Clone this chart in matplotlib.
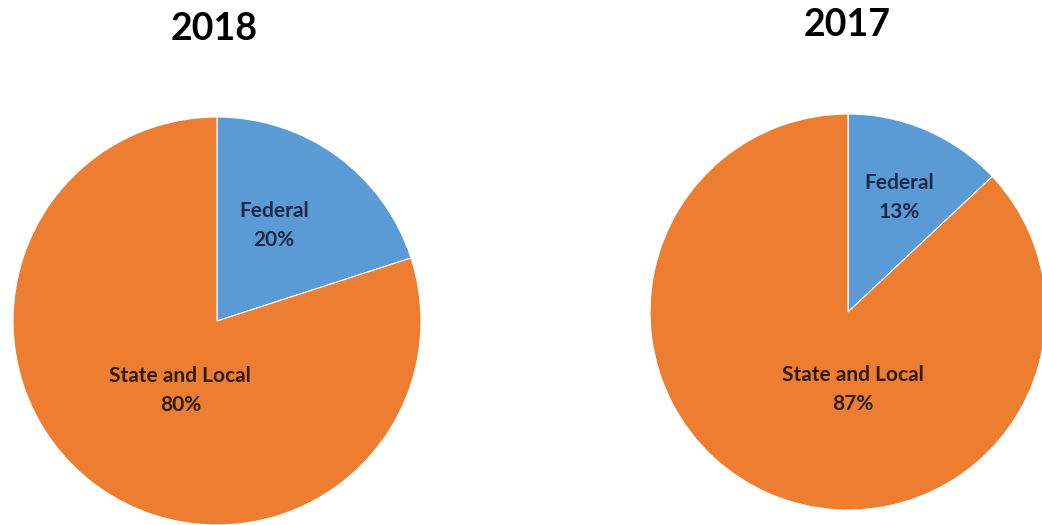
import matplotlib
matplotlib.use("Agg")
import matplotlib.pyplot as plt

# data
categories = ["Federal", "State and Local"]
years = ["2018", "2017"]
shares_2018 = [20, 80]
shares_2017 = [13, 87]

colors = ["#5B9BD5", "#ED7D31"]
text_colors = ["#1c2a48", "#2e1a0e"]

plt.rcParams["font.family"] = ["Lato", "DejaVu Sans"]

W, H = 1042, 525
fig = plt.figure(figsize=(W / 100, H / 100), dpi=100)


def px_axes(cx, cy, r):
    # cx, cy measured from top-left in pixels
    return fig.add_axes([(cx - r) / W, (H - cy - r) / H, 2 * r / W, 2 * r / H])


# (center x, center y, radius, title x, title y, label offsets in radius units)
layout = [
    (217, 321, 204, 214, 29, [(0.28, 0.47), (-0.18, -0.34)]),
    (848, 312, 198, 847, 25, [(0.26, 0.58), (0.025, -0.39)]),
]

for year, shares, (cx, cy, r, tx, ty, offs) in zip(years, [shares_2018, shares_2017], layout):
    ax = px_axes(cx, cy, r)
    ax.pie(shares, colors=colors, startangle=90, counterclock=False,
           radius=1.0, wedgeprops=dict(edgecolor="white", linewidth=0.8))
    ax.set_xlim(-1, 1)
    ax.set_ylim(-1, 1)
    ax.set_aspect("equal")
    ax.axis("off")
    for cat, val, (dx, dy), tc in zip(categories, shares, offs, text_colors):
        ax.text(dx, dy, f"{cat}\n{val}%", ha="center", va="center",
                fontsize=15, fontweight="bold", color=tc, linespacing=1.55)
    fig.text(tx / W, 1 - ty / H, year, ha="center", va="center",
             fontsize=27, fontweight="bold", color="black")

fig.savefig("out.png", dpi=100)
